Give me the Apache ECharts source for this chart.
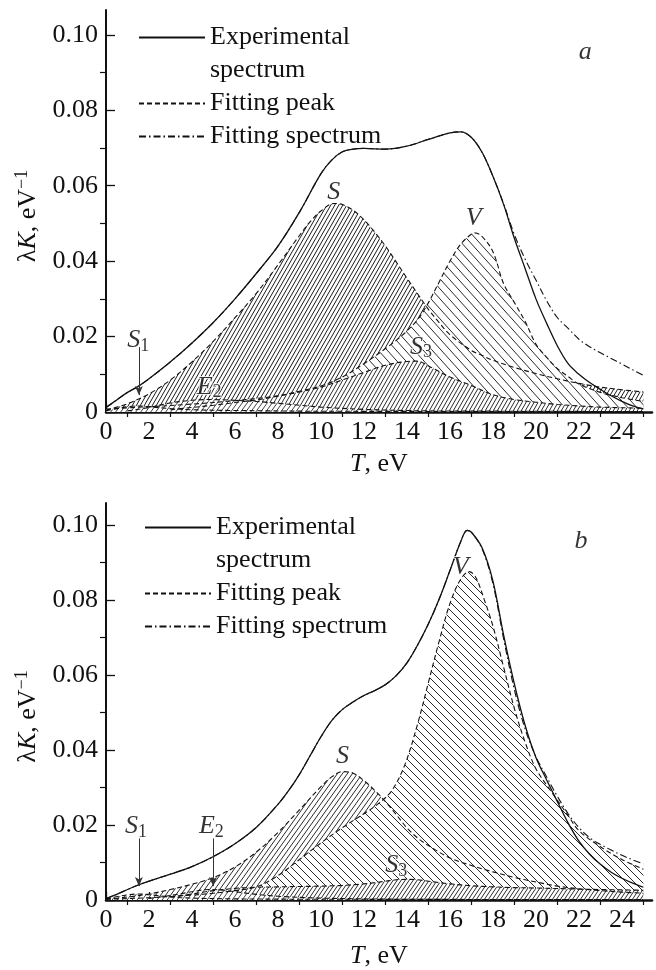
<!DOCTYPE html>
<html>
<head>
<meta charset="utf-8">
<script src="https://cdn.jsdelivr.net/npm/echarts@6/dist/echarts.min.js"></script>
<style>
html,body{margin:0;padding:0;background:#fff;}
#chart{width:656px;height:970px;}
</style>
</head>
<body>
<div id="chart"></div>
<script>
// ---------------- DATA ----------------
// Panel a
const aExpT = [0,0.5,1,1.5,2,3,4,5,6,7,8,9,10,10.5,11,11.5,12,13,14,15,16,16.5,17,17.5,18,18.5,19,19.5,20,20.5,21,21.5,22,22.5,23,23.5,24,24.5,25];
const aExpV = [0.0012,0.0032,0.0052,0.0068,0.0088,0.0133,0.0183,0.0238,0.0300,0.0368,0.0440,0.0530,0.0632,0.0668,0.0690,0.0697,0.0699,0.0697,0.0705,0.0723,0.0740,0.0743,0.0728,0.0688,0.0625,0.0550,0.0460,0.0380,0.0300,0.0235,0.0175,0.0128,0.0100,0.0078,0.0060,0.0043,0.0028,0.0016,0.0008];
const aFitT = [0,0.5,1,1.5,2,3,4,5,6,7,8,9,10,10.5,11,11.5,12,13,14,15,16,16.5,17,17.5,18,18.5,19,19.5,20,20.5,21,21.5,22,22.5,23,23.5,24,24.5,25];
const aFitV = [0.0012,0.0032,0.0052,0.0068,0.0088,0.0133,0.0183,0.0238,0.0300,0.0368,0.0440,0.0530,0.0632,0.0668,0.0690,0.0697,0.0699,0.0697,0.0705,0.0723,0.0740,0.0743,0.0728,0.0688,0.0625,0.0552,0.0470,0.0405,0.0350,0.0295,0.0250,0.0222,0.0193,0.0173,0.0157,0.0142,0.0127,0.0112,0.0097];
const aST = [0,1,2,3,4,5,6,7,8,9,9.5,10,10.6,11,11.5,12,12.5,13,13.5,14,14.5,15,15.5,16,17,17.5,18,19,20,21,22,23,24,25];
const aSV = [0.0005,0.0022,0.0048,0.0085,0.0133,0.0188,0.0250,0.0315,0.0390,0.0468,0.0505,0.0533,0.0553,0.0550,0.0535,0.0510,0.0477,0.0440,0.0398,0.0355,0.0313,0.0272,0.0237,0.0205,0.0163,0.0150,0.0137,0.0118,0.0102,0.0088,0.0076,0.0066,0.0059,0.0053];
const aVT = [0,2,4,6,7,8,9,10,11,12,13,13.5,14,14.5,15,15.5,16,16.5,17,17.15,17.5,18,18.5,19,19.5,20,20.5,21,21.5,22,23,24,25];
const aVV = [0.0008,0.0014,0.0021,0.0030,0.0036,0.0043,0.0055,0.0069,0.0093,0.0128,0.0168,0.0190,0.0215,0.0245,0.0290,0.0345,0.0400,0.0445,0.0472,0.0475,0.0465,0.0425,0.0340,0.0290,0.0240,0.0180,0.0145,0.0115,0.0094,0.0074,0.0052,0.0038,0.0028];
const aS3T = [3,4,5,6,7,8,9,10,11,12,13,14,14.5,15,16,17,18,19,20,21,22,23,25];
const aS3V = [0.0006,0.0012,0.0018,0.0025,0.0032,0.0042,0.0053,0.0066,0.0085,0.0105,0.0124,0.0134,0.0135,0.0122,0.0093,0.0070,0.0046,0.0033,0.0026,0.0020,0.0016,0.0013,0.0010];
const aE2T = [1,2,3,4,4.8,6,7,8,9,10,12,15,20,25];
const aE2V = [0.0003,0.0012,0.0024,0.0031,0.0033,0.0031,0.0028,0.0023,0.0018,0.0013,0.0007,0.0003,0.0002,0.0001];
const aS1T = [0,0.5,1,1.5,2,3,4,6,10,25];
const aS1V = [0.0003,0.0009,0.0014,0.0016,0.0014,0.0009,0.0006,0.0004,0.0002,0.0001];
const aLabelT = [10.6,17.1,1.5,4.8,14.65,22.3];
const aLabelV = [0.0584,0.0514,0.0190,0.0067,0.0173,0.0955];
const aLabelText = ['S','V','S1','E2','S3','a'];
const aArrowT = [1.53];
const aArrowFrom = [0.0172];
const aArrowTo = [0.0045];

// Panel b
const bExpT = [0,0.5,1,1.5,2,3,4,5,6,7,8,8.5,9,9.5,10,10.5,11,11.5,12,12.5,13,13.5,14,14.5,15,15.5,16,16.5,16.8,17,17.5,18,18.5,19,19.5,20,20.5,21,21.5,22,22.5,23,23.5,24,24.5,25];
const bExpV = [0.0004,0.0015,0.0028,0.0040,0.0050,0.0069,0.0089,0.0116,0.0150,0.0194,0.0255,0.0292,0.0335,0.0385,0.0435,0.0478,0.0508,0.0528,0.0545,0.0558,0.0574,0.0598,0.0632,0.0680,0.0736,0.0802,0.0878,0.0955,0.0985,0.0980,0.0938,0.0850,0.0705,0.0575,0.0465,0.0380,0.0320,0.0262,0.0205,0.0157,0.0122,0.0095,0.0074,0.0058,0.0045,0.0034];
const bFitT = [0,0.5,1,1.5,2,3,4,5,6,7,8,8.5,9,9.5,10,10.5,11,11.5,12,12.5,13,13.5,14,14.5,15,15.5,16,16.5,16.8,17,17.5,18,18.5,19,19.5,20,20.5,21,21.5,22,22.5,23,23.5,24,24.5,25];
const bFitV = [0.0004,0.0015,0.0028,0.0040,0.0050,0.0069,0.0089,0.0116,0.0150,0.0194,0.0255,0.0292,0.0335,0.0385,0.0435,0.0478,0.0508,0.0528,0.0545,0.0558,0.0574,0.0598,0.0632,0.0680,0.0736,0.0802,0.0878,0.0955,0.0985,0.0980,0.0935,0.0843,0.0695,0.0560,0.0455,0.0382,0.0328,0.0276,0.0230,0.0193,0.0166,0.0148,0.0133,0.0119,0.0107,0.0096];
const bST = [0,1,2,3,4,5,6,7,8,9,10,10.5,11,11.5,12,12.5,13,13.5,14,14.5,15,16,17,18,19,20,21,22,23,24,25];
const bSV = [0.0002,0.0008,0.0016,0.0028,0.0042,0.0060,0.0088,0.0128,0.0180,0.0240,0.0302,0.0328,0.0342,0.0338,0.0318,0.0292,0.0262,0.0228,0.0192,0.0165,0.0145,0.0112,0.0092,0.0075,0.0060,0.0048,0.0037,0.0030,0.0025,0.0021,0.0018];
const bVT = [0,2,4,5,6,7,8,9,10,11,12,12.7,13.3,13.9,14.5,15,15.5,16,16.5,16.9,17.2,17.6,18,18.5,19,19.5,20,20.7,21.5,22,23,24,25];
const bVV = [0.0002,0.0006,0.0013,0.0018,0.0025,0.0035,0.0065,0.0108,0.0152,0.0193,0.0230,0.0258,0.0292,0.0360,0.0470,0.0580,0.0690,0.0790,0.0855,0.0875,0.0860,0.0800,0.0730,0.0620,0.0510,0.0420,0.0350,0.0290,0.0225,0.0185,0.0142,0.0108,0.0082];
const bS3T = [3,4,5,6,7,8,9,10,11,12,13,13.5,14,14.5,15,16,17,18,19,20,22,25];
const bS3V = [0.0008,0.0016,0.0025,0.0031,0.0034,0.0035,0.0036,0.0037,0.0039,0.0043,0.0050,0.0054,0.0055,0.0054,0.0050,0.0043,0.0038,0.0035,0.0033,0.0032,0.0029,0.0026];
const bE2T = [2,3,4,4.8,5.5,6,7,8,10,14,25];
const bE2V = [0.0004,0.0012,0.0022,0.0028,0.0026,0.0022,0.0015,0.0010,0.0005,0.0002,0.0001];
const bS1T = [0,0.8,1.5,2.2,3,4,6,10,25];
const bS1V = [0.0003,0.0012,0.0016,0.0013,0.0008,0.0005,0.0003,0.0002,0.0001];
const bLabelT = [16.5,11.0,1.4,4.9,13.5,22.1];
const bLabelV = [0.0886,0.0382,0.0196,0.0196,0.0093,0.0955];
const bLabelText = ['V','S','S1','E2','S3','b'];
const bArrowT = [1.53,4.98];
const bArrowFrom = [0.0164,0.0164];
const bArrowTo = [0.0037,0.0037];

// Axis ticks
const xMajorTicks = [0,2,4,6,8,10,12,14,16,18,20,22,24];
const xMinorTicks = [1,3,5,7,9,11,13,15,17,19,21,23,25];
const yMajorTicks = [0,0.02,0.04,0.06,0.08,0.10];
const yMinorTicks = [0.01,0.03,0.05,0.07,0.09];
const legendNames = ['Experimental spectrum','Fitting peak','Fitting spectrum'];

// ---------------- helpers ----------------
const FONT = 'Liberation Serif';
const INK = '#111';
function zip(t, v) { return t.map((x, i) => [x, v[i]]); }
function hatch(w, h, dir, color, lw) {
  const c = document.createElement('canvas');
  c.width = w; c.height = h;
  const g = c.getContext('2d');
  g.fillStyle = '#fff'; g.fillRect(0, 0, w, h);
  g.strokeStyle = color; g.lineWidth = lw;
  g.beginPath();
  for (let k = -1; k <= 1; k++) {
    if (dir === '/') { g.moveTo(k * w, h); g.lineTo(k * w + w, 0); }
    else { g.moveTo(k * w, 0); g.lineTo(k * w + w, h); }
  }
  g.stroke();
  return { image: c, repeat: 'repeat' };
}
const pat = {
  Sa: hatch(4, 7, '/', '#1a1a1a', 1),
  Va: hatch(9, 10, '\\', '#2a2a2a', 1),
  S3a: hatch(4, 7, '/', '#2a2a2a', 1),
  smallA: hatch(5, 7, '/', '#444', 1),
  Sb: hatch(5, 7, '/', '#2a2a2a', 1),
  Vb: hatch(8, 8, '\\', '#2a2a2a', 1),
  S3b: hatch(4, 6, '/', '#2a2a2a', 1),
  smallB: hatch(5, 7, '/', '#444', 1)
};

const dashPeak = [5, 3];
const dashFit = [7, 3, 1.5, 3];

const richTxt = {
  i: { fontFamily: FONT, fontStyle: 'italic', fontSize: 26, color: INK, lineHeight: 30 },
  n: { fontFamily: FONT, fontSize: 26, color: INK, lineHeight: 30 },
  sub: { fontFamily: FONT, fontSize: 18, color: INK, lineHeight: 12, verticalAlign: 'bottom' },
  sup: { fontFamily: FONT, fontSize: 18, color: INK, lineHeight: 12, verticalAlign: 'top' }
};
const richLbl = {
  i: Object.assign({}, richTxt.i, { color: '#000', textBorderColor: '#fff', textBorderWidth: 2 }),
  sub: Object.assign({}, richTxt.sub, { color: '#000', textBorderColor: '#fff', textBorderWidth: 2 })
};
function labelFmt(s) {
  if (s.length === 2) return '{i|' + s[0] + '}{sub|' + s[1] + '}';
  return '{i|' + s + '}';
}

function areaSeries(name, gi, t, v, p) {
  return {
    name: name, type: 'line', xAxisIndex: gi * 2, yAxisIndex: gi * 2,
    data: zip(t, v), smooth: 0.35, showSymbol: false, symbol: 'none', silent: true,
    lineStyle: { width: 0, opacity: 0 }, areaStyle: { color: p, opacity: 1 }
  };
}
function lineSeries(name, gi, t, v, type, w) {
  return {
    name: name, type: 'line', xAxisIndex: gi * 2, yAxisIndex: gi * 2,
    data: zip(t, v), smooth: 0.35, showSymbol: false, symbol: 'none', silent: true,
    itemStyle: { color: INK },
    lineStyle: { color: INK, width: w, type: type }
  };
}
function labelSeries(gi, t, v, txt, arrT, arrFrom, arrTo) {
  return {
    name: 'labels' + gi, type: 'scatter', xAxisIndex: gi * 2, yAxisIndex: gi * 2,
    data: t.map((x, i) => ({ value: [x, v[i]], name: txt[i] })),
    symbolSize: 0, itemStyle: { color: 'rgba(0,0,0,0)' }, silent: true, clip: false, z: 10,
    label: { show: true, position: 'inside', color: '#000', formatter: p => labelFmt(p.name), rich: richLbl },
    labelLayout: { hideOverlap: false },
    markLine: {
      silent: true, symbol: ['none', 'arrow'], symbolSize: [6, 9],
      lineStyle: { color: '#333', width: 1, type: 'solid' }, label: { show: false },
      data: arrT.map((x, i) => [{ coord: [x, arrFrom[i]] }, { coord: [x, arrTo[i]] }])
    }
  };
}

function axesFor(gi, ymax, nameGapX, yNamePad) {
  const x = [{
    type: 'value', gridIndex: gi, min: 0, max: 25.4,
    axisLine: { show: true, lineStyle: { color: INK, width: 2.5 } },
    axisTick: { show: true, inside: true, length: 8, customValues: xMajorTicks, lineStyle: { color: INK, width: 1.3 } },
    axisLabel: { show: true, customValues: xMajorTicks, margin: 7, fontFamily: FONT, fontSize: 26, color: INK },
    splitLine: { show: false },
    name: '{i|T}{n|, eV}', nameLocation: 'middle', nameGap: nameGapX,
    nameTextStyle: { rich: richTxt }
  }, {
    type: 'value', gridIndex: gi, min: 0, max: 25.4,
    axisLine: { show: false },
    axisTick: { show: true, inside: true, length: 5, customValues: xMinorTicks, lineStyle: { color: INK, width: 1.2 } },
    axisLabel: { show: false }, splitLine: { show: false }
  }];
  const y = [{
    type: 'value', gridIndex: gi, min: 0, max: ymax,
    axisLine: { show: true, lineStyle: { color: INK, width: 2 } },
    axisTick: { show: true, inside: true, length: 9, customValues: yMajorTicks, lineStyle: { color: INK, width: 1.3 } },
    axisLabel: { show: true, customValues: yMajorTicks, margin: 8, fontFamily: FONT, fontSize: 26, color: INK,
      formatter: v => (v === 0 ? '0' : v.toFixed(2)) },
    splitLine: { show: false },
    name: '{n|λ}{i|K}{n|, eV}{sup|−1}', nameLocation: 'middle', nameGap: 62, nameRotate: 90,
    nameTextStyle: { rich: richTxt, padding: yNamePad }
  }, {
    type: 'value', gridIndex: gi, min: 0, max: ymax,
    axisLine: { show: false },
    axisTick: { show: true, inside: true, length: 6, customValues: yMinorTicks, lineStyle: { color: INK, width: 1.2 } },
    axisLabel: { show: false }, splitLine: { show: false }
  }];
  return { x, y };
}
const axA = axesFor(0, 0.1066, 37, [0, 10, 0, 0]);
const axB = axesFor(1, 0.1058, 41, [0, 30, 0, 0]);

function legendFor(left, top) {
  return {
    left: left, top: top, orient: 'vertical', padding: 0, itemGap: 0,
    itemWidth: 66, itemHeight: 14, selectedMode: false,
    itemStyle: { opacity: 0, borderWidth: 0 },
    data: legendNames,
    formatter: n => (n === 'Experimental spectrum' ? '\nExperimental\nspectrum' : n),
    textStyle: { fontFamily: FONT, fontSize: 26, lineHeight: 33, color: INK }
  };
}

const series = [
  areaSeries('S area a', 0, aST, aSV, pat.Sa),
  areaSeries('V area a', 0, aVT, aVV, pat.Va),
  areaSeries('S3 area a', 0, aS3T, aS3V, pat.S3a),
  areaSeries('E2 area a', 0, aE2T, aE2V, pat.smallA),
  areaSeries('S1 area a', 0, aS1T, aS1V, pat.smallA),
  lineSeries('Fitting peak', 0, aST, aSV, dashPeak, 1.1),
  lineSeries('Fitting peak', 0, aVT, aVV, dashPeak, 1.1),
  lineSeries('Fitting peak', 0, aS3T, aS3V, dashPeak, 1.1),
  lineSeries('Fitting peak', 0, aE2T, aE2V, dashPeak, 1.1),
  lineSeries('Fitting peak', 0, aS1T, aS1V, dashPeak, 1.1),
  lineSeries('Fitting spectrum', 0, aFitT, aFitV, dashFit, 1.1),
  lineSeries('Experimental spectrum', 0, aExpT, aExpV, 'solid', 1.3),
  areaSeries('S area b', 1, bST, bSV, pat.Sb),
  areaSeries('V area b', 1, bVT, bVV, pat.Vb),
  areaSeries('S3 area b', 1, bS3T, bS3V, pat.S3b),
  areaSeries('E2 area b', 1, bE2T, bE2V, pat.smallB),
  areaSeries('S1 area b', 1, bS1T, bS1V, pat.smallB),
  lineSeries('Fitting peak', 1, bST, bSV, dashPeak, 1.1),
  lineSeries('Fitting peak', 1, bVT, bVV, dashPeak, 1.1),
  lineSeries('Fitting peak', 1, bS3T, bS3V, dashPeak, 1.1),
  lineSeries('Fitting peak', 1, bE2T, bE2V, dashPeak, 1.1),
  lineSeries('Fitting peak', 1, bS1T, bS1V, dashPeak, 1.1),
  lineSeries('Fitting spectrum', 1, bFitT, bFitV, dashFit, 1.1),
  lineSeries('Experimental spectrum', 1, bExpT, bExpV, 'solid', 1.3),
  labelSeries(0, aLabelT, aLabelV, aLabelText, aArrowT, aArrowFrom, aArrowTo),
  labelSeries(1, bLabelT, bLabelV, bLabelText, bArrowT, bArrowFrom, bArrowTo)
];

const chart = echarts.init(document.getElementById('chart'), null, { renderer: 'canvas' });
chart.setOption({
  animation: false,
  backgroundColor: '#fff',
  textStyle: { fontFamily: FONT },
  grid: [
    { left: 106, top: 10, width: 546, height: 402 },
    { left: 106, top: 503, width: 546, height: 399 }
  ],
  xAxis: [...axA.x, ...axB.x],
  yAxis: [...axA.y, ...axB.y],
  legend: [legendFor(138, -12), legendFor(144, 478)],
  series: series
});
</script>
</body>
</html>
